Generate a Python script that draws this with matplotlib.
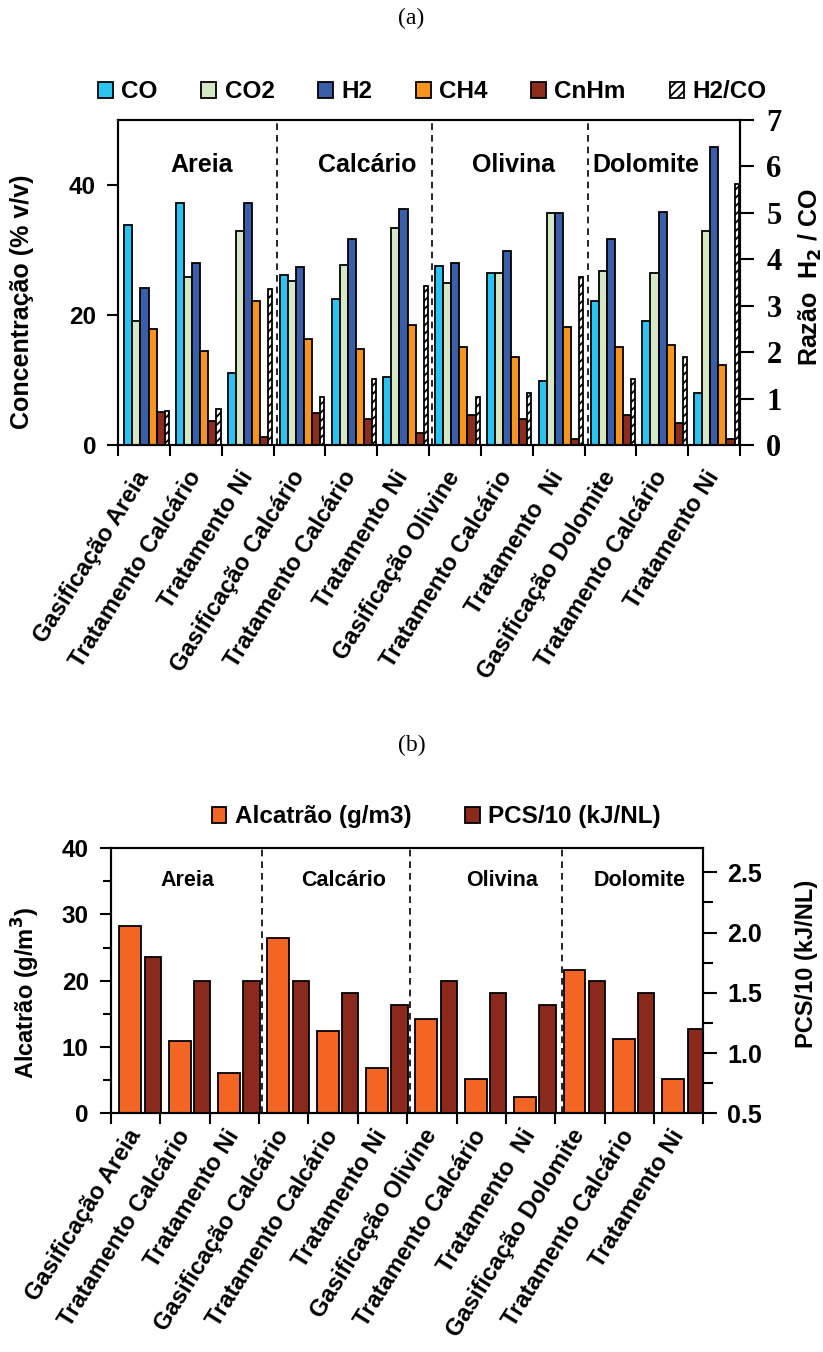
import numpy as np
import matplotlib
matplotlib.use('Agg')
import matplotlib.pyplot as plt
from matplotlib.patches import Patch

plt.rcParams['font.family'] = 'Liberation Sans'
plt.rcParams['font.weight'] = 'bold'
plt.rcParams['hatch.linewidth'] = 1.3

# data
labels = ['Gasificação Areia', 'Tratamento Calcário', 'Tratamento Ni',
          'Gasificação Calcário', 'Tratamento Calcário', 'Tratamento Ni',
          'Gasificação Olivine', 'Tratamento Calcário', 'Tratamento  Ni',
          'Gasificação Dolomite', 'Tratamento Calcário', 'Tratamento Ni']
groups = ['Areia', 'Calcário', 'Olivina', 'Dolomite']

co   = [33.8, 37.2, 11.1, 26.2, 22.5, 10.5, 27.6, 26.5, 9.8, 22.1, 19.1, 8.0]
co2  = [19.1, 25.8, 32.9, 25.2, 27.7, 33.3, 24.9, 26.5, 35.7, 26.8, 26.5, 32.9]
h2   = [24.2, 28.0, 37.2, 27.4, 31.7, 36.3, 28.0, 29.8, 35.7, 31.7, 35.9, 45.8]
ch4  = [17.9, 14.4, 22.2, 16.3, 14.8, 18.4, 15.1, 13.5, 18.1, 15.1, 15.3, 12.3]
cnhm = [5.1, 3.7, 1.2, 4.9, 4.0, 1.8, 4.6, 4.0, 0.9, 4.6, 3.3, 0.9]
h2co = [0.73, 0.77, 3.35, 1.03, 1.42, 3.43, 1.03, 1.11, 3.61, 1.42, 1.89, 5.62]

alcatrao = [28.3, 10.9, 6.0, 26.5, 12.4, 6.9, 14.2, 5.2, 2.5, 21.6, 11.2, 5.2]
pcs      = [1.8, 1.6, 1.6, 1.6, 1.5, 1.4, 1.6, 1.5, 1.4, 1.6, 1.5, 1.2]

gas_names  = ['CO', 'CO2', 'H2', 'CH4', 'CnHm']
gas_colors = ['#29C4F2', '#D4E8C6', '#3B5EAB', '#F7941D', '#8C2D1C']
tar_color, pcs_color = '#F26522', '#8B2A1C'

x = np.arange(len(labels))
lw = 1.3

fig = plt.figure(figsize=(8.23, 13.52), dpi=100)

############################################
# (a) gas composition
############################################
axa = fig.add_axes([0.1437, 0.6709, 0.7554, 0.2404])
axa2 = axa.twinx()

w = 0.156
for k, vals in enumerate([co, co2, h2, ch4, cnhm]):
    axa.bar(x + 0.116 + k * w, vals, w, align='edge', color=gas_colors[k],
            edgecolor='black', linewidth=lw)
axa2.bar(x + 0.116 + 5 * w, h2co, 0.08, align='edge', color='white',
         edgecolor='black', hatch='////', linewidth=lw)

axa.set_xlim(0, 12)
axa.set_ylim(0, 50)
axa2.set_ylim(0, 7)
axa.set_yticks([0, 20, 40])
axa2.set_yticks(range(8))

for xs in [3.07, 6.06, 9.07]:
    axa.axvline(xs, color='black', ls=(0, (4, 3)), lw=1.2)
for gx, g in zip([1.61, 4.80, 7.63, 10.19], groups):
    axa.text(gx, 43, g, ha='center', va='center', fontsize=18, weight='bold')

axa.set_ylabel('Concentração (% v/v)', fontsize=18, weight='bold')
axa.yaxis.set_label_coords(-0.135, 0.44)
axa2.set_ylabel('Razão  H$_\\mathbf{2}$ / CO', fontsize=18, weight='bold')
axa2.yaxis.set_label_coords(1.091, 0.517)

############################################
# (b) tar and heating value
############################################
axb = fig.add_axes([0.1349, 0.1766, 0.7197, 0.1960])
axb2 = axb.twinx()

axb.bar(x + 0.167, alcatrao, 0.445, align='edge', color=tar_color,
        edgecolor='black', linewidth=lw)
axb2.bar(x + 0.68, pcs, 0.33, align='edge', color=pcs_color,
         edgecolor='black', linewidth=lw)

axb.set_xlim(0, 12)
axb.set_ylim(0, 40)
axb2.set_ylim(0.5, 2.7)
axb.set_yticks([0, 10, 20, 30, 40])
axb.set_yticks([5, 15, 25, 35], minor=True)
axb2.set_yticks([0.5, 1.0, 1.5, 2.0, 2.5])
axb2.set_yticks([0.75, 1.25, 1.75, 2.25], minor=True)
axb2.set_yticklabels(['0.5', '1.0', '1.5', '2.0', '2.5'])

for xs in [3.06, 6.05, 9.14]:
    axb.axvline(xs, color='black', ls=(0, (4, 3)), lw=1.2)
for gx, g in zip([1.55, 4.72, 7.92, 10.70], groups):
    axb.text(gx, 35.1, g, ha='center', va='center', fontsize=15.5, weight='bold')

axb.set_ylabel('Alcatrão (g/m$^\\mathbf{3}$)', fontsize=17, weight='bold')
axb.yaxis.set_label_coords(-0.1165, 0.455)
axb2.set_ylabel('PCS/10 (kJ/NL)', fontsize=17, weight='bold')
axb2.yaxis.set_label_coords(1.155, 0.563)

# common axis styling
for ax, lpad in [(axa, 20), (axb, 13)]:
    ax.set_xticks(np.arange(13))
    ax.set_xticklabels([])
    ax.set_xticks(x + 0.5, minor=True)
    ax.set_xticklabels(labels, minor=True, rotation=58, ha='right', va='center',
                       rotation_mode='anchor', fontsize=17, weight='bold')
    ax.tick_params(axis='x', which='major', direction='out', length=8, width=1.5)
    ax.tick_params(axis='x', which='minor', length=0, pad=lpad)
    ax.tick_params(axis='y', which='both', direction='out', length=8, width=1.5,
                   labelsize=17.5, pad=8)
    ax.tick_params(axis='y', which='minor', length=6)

for ax in [axa, axa2, axb, axb2]:
    for s in ax.spines.values():
        s.set_linewidth(1.5)

axa2.tick_params(axis='y', direction='out', length=10, width=1.5, pad=9,
                 labelsize=22, labelfontfamily='Liberation Serif')
axb2.tick_params(axis='y', which='both', direction='out', width=1.5, labelsize=18, pad=7)
axb2.tick_params(axis='y', which='major', length=10)
axb2.tick_params(axis='y', which='minor', length=7)

# legends and panel titles
hand_a = [Patch(facecolor=c, edgecolor='black', linewidth=lw) for c in gas_colors]
hand_a.append(Patch(facecolor='white', edgecolor='black', hatch='////', linewidth=lw))
fig.legend(hand_a, gas_names + ['H2/CO'], loc='center',
           bbox_to_anchor=(0.5255, 1 - 92 / 1352), ncol=6, frameon=False,
           prop={'size': 17.5, 'weight': 'bold'}, handlelength=0.6,
           handleheight=0.6, handletextpad=0.35, columnspacing=1.8)

hand_b = [Patch(facecolor=tar_color, edgecolor='black', linewidth=lw),
          Patch(facecolor=pcs_color, edgecolor='black', linewidth=lw)]
fig.legend(hand_b, ['Alcatrão (g/m3)', 'PCS/10 (kJ/NL)'], loc='center',
           bbox_to_anchor=(0.53, 1 - 817 / 1352), ncol=2, frameon=False,
           prop={'size': 17.5, 'weight': 'bold'}, handlelength=0.6,
           handleheight=0.6, handletextpad=0.35, columnspacing=2.2)

fig.text(0.5, 1 - 18 / 1352, '(a)', family='Liberation Serif', weight='normal',
         fontsize=17, ha='center', va='center')
fig.text(0.5, 1 - 745 / 1352, '(b)', family='Liberation Serif', weight='normal',
         fontsize=17, ha='center', va='center')

fig.savefig('out.png', dpi=100)
